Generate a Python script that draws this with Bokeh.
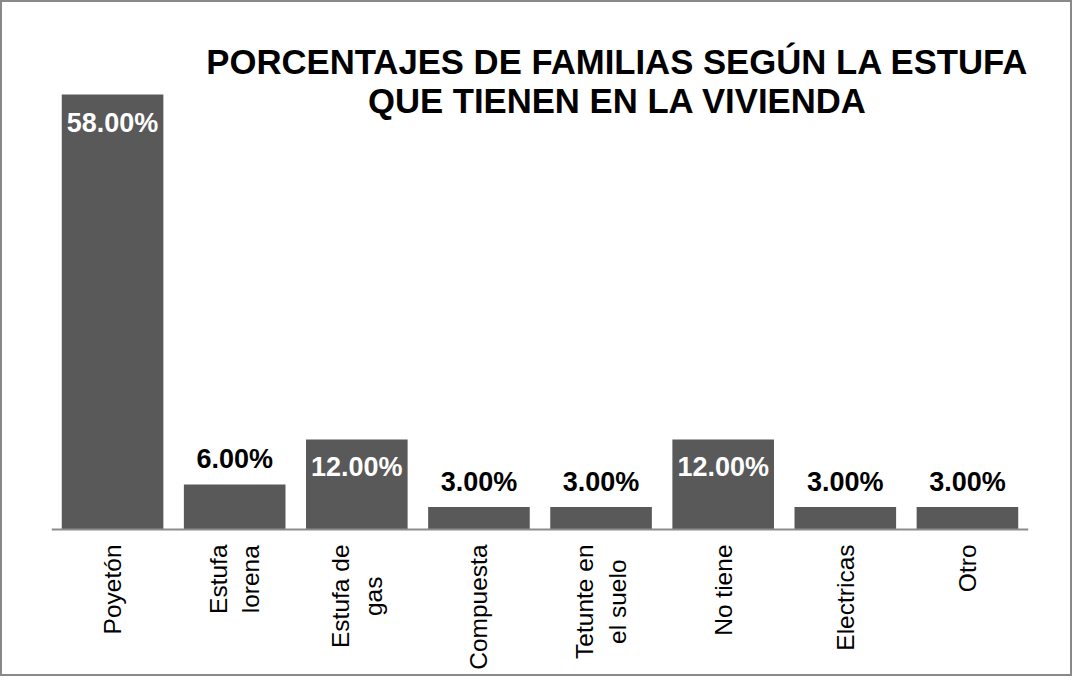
import math
from bokeh.plotting import figure
from bokeh.models import ColumnDataSource, Range1d, FactorRange, Span, Label
from bokeh.embed import file_html
from bokeh.resources import INLINE
from bokeh.core.properties import value

# ---- data ----
categories = ["Poyetón", "Estufa\nlorena", "Estufa de\ngas", "Compuesta",
              "Tetunte en\nel suelo", "No tiene", "Electricas", "Otro"]
percentages = [58.0, 6.0, 12.0, 3.0, 3.0, 12.0, 3.0, 3.0]
title_lines = ["PORCENTAJES DE FAMILIAS SEGÚN LA ESTUFA",
               "QUE TIENEN EN LA VIVIENDA"]

FONT = "Liberation Sans"
BAR_COLOR = "#595959"
AXIS_COLOR = "#8c8c8c"
INSIDE_THRESHOLD = 10.0

labels = [f"{v:.2f}%" for v in percentages]
src = ColumnDataSource(dict(cat=categories, pct=percentages, label=labels))
inside = [i for i, v in enumerate(percentages) if v >= INSIDE_THRESHOLD]
outside = [i for i, v in enumerate(percentages) if v < INSIDE_THRESHOLD]
src_in = ColumnDataSource(dict(cat=[categories[i] for i in inside],
                               pct=[percentages[i] for i in inside],
                               label=[labels[i] for i in inside]))
src_out = ColumnDataSource(dict(cat=[categories[i] for i in outside],
                                pct=[percentages[i] for i in outside],
                                label=[labels[i] for i in outside]))

p = figure(width=1072, height=676,
           x_range=FactorRange(*categories, range_padding=0),
           y_range=Range1d(-19.867, 66.667),
           output_backend="svg", toolbar_location=None,
           x_axis_location=None, y_axis_location=None,
           min_border_left=49, min_border_right=46,
           min_border_top=27, min_border_bottom=0)
p.grid.visible = False
p.outline_line_color = None
p.background_fill_color = "white"
p.border_fill_color = "white"
p.styles = {"border": "2px solid #898989"}

p.vbar(x="cat", top="pct", width=0.832, source=src,
       fill_color=BAR_COLOR, line_color=None)

p.add_layout(Span(location=0, dimension="width", line_color=AXIS_COLOR,
                  line_width=2))

common = dict(text_font=value(FONT), text_font_style="bold",
              text_font_size="27px", text_align="center",
              text_baseline="middle")
p.text(x="cat", y="pct", text="label", source=src_in, text_color="white",
       y_offset=28, **common)
p.text(x="cat", y="pct", text="label", source=src_out, text_color="black",
       y_offset=-25, **common)

# category labels (rotated, multi-line centred)
p.text(x="cat", y=0, text="cat", source=src, angle=math.pi / 2,
       anchor="center_right", text_align="center", y_offset=15,
       text_font=value(FONT), text_font_size="24.5px", text_color="black",
       text_line_height=1.2)

for txt, yy in zip(title_lines, [617, 578]):
    p.add_layout(Label(x=566, y=yy, x_units="screen", y_units="screen",
                       text=txt, text_align="center", text_baseline="middle",
                       text_font=FONT, text_font_style="bold",
                       text_font_size="34.7px", text_color="black"))

open("out.html", "w").write(file_html(p, INLINE))
